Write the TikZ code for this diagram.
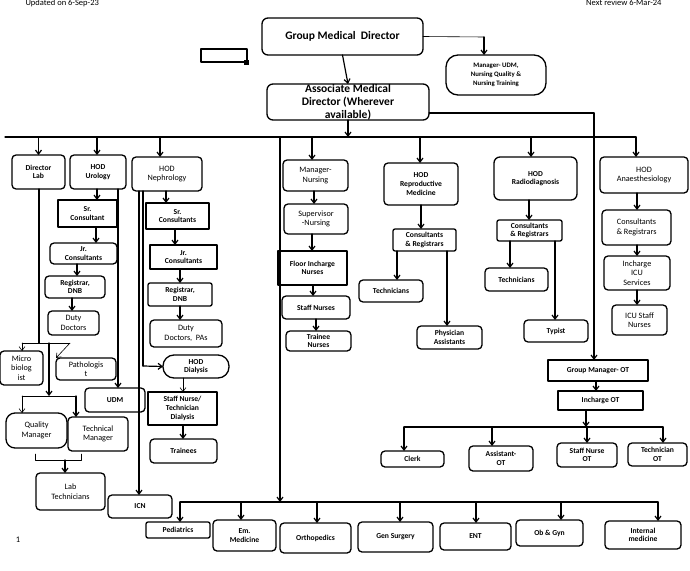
\documentclass[tikz,border=0pt]{standalone}
\usepackage{fontspec}
\setmainfont{Carlito}
\usetikzlibrary{arrows.meta}

\tikzset{
  box/.style={draw, line width=1.3pt, inner sep=0pt, outer sep=0pt, align=center, font=\fontsize{7.6}{8.6}\selectfont\bfseries},
  rbox/.style={box, rounded corners=4pt},
  lbox/.style={rbox, font=\fontsize{8.2}{9.6}\selectfont},
  big/.style={rbox, rounded corners=6pt, font=\fontsize{11.5}{13}\selectfont\bfseries},
  arr/.style={line width=1.2pt, -{Straight Barb[length=4pt,width=6pt]}},
  thin arr/.style={line width=0.6pt, -{Straight Barb[length=4pt,width=6pt]}},
  ln/.style={line width=1.2pt}
}
% box from corner (x1,y1) to (x2,y2)
\newcommand\bx[7]{\node[#2, minimum width={(#5-#3)*1pt}, minimum height={(#6-#4)*1pt}] (#1) at ({(#3+#5)/2},{(#4+#6)/2}) {#7};}

\begin{document}
\begin{tikzpicture}[x=1pt, y=-1pt, line cap=round, line join=round]
\useasboundingbox (0,0) rectangle (690,570);

% header
\node[font=\fontsize{8.5}{9}\selectfont, anchor=west] (upd) at (22,3) {Updated on 6-Sep-23};
\node[font=\fontsize{8.5}{9}\selectfont, anchor=east] (rev) at (665,3) {Next review 6-Mar-24};
\node[font=\fontsize{8.5}{9}\selectfont] (pg) at (18,540) {1};

% top level
\bx{gmd}{big}{262}{18}{423}{55}{Group Medical\ \ Director}
\bx{udmm}{rbox, rounded corners=12pt, font=\fontsize{6.8}{8.8}\selectfont\bfseries}{446}{55}{546}{95}{Manager-\ UDM,\\Nursing Quality \&\\Nursing Training}
\bx{amd}{big}{267}{84}{429}{120}{Associate Medical\\Director (Wherever\\available)}
\draw[line width=2pt] (201,49) rectangle (247,62);
\fill (244,60) rectangle (249,65);

\draw[line width=0.6pt] (gmd.east) -- (484,37) coordinate (udmk);
\draw[arr] (udmk) -- (udmk |- udmm.north);
\draw[arr] (gmd.south) -- (amd.north);
\coordinate (busL) at (32,137);
\coordinate (busR) at (636,137);
\draw[arr] (amd.south) -- (amd.south |- busL);
\draw[ln] (5,137) -- (busR);
\draw[ln] (amd.east |- 0,113) -- (594,113) coordinate (otk);

% Lab
\bx{lab}{rbox}{12}{155}{65}{189}{Director\\Lab}
\bx{micro}{lbox}{0}{351}{43}{385}{Micro\\biolog\\ist}
\bx{path}{lbox}{56}{358}{116}{380}{Pathologis\\t}
\bx{qm}{lbox, rounded corners=9pt}{6}{413}{67}{448}{Quality\\Manager}
\bx{tm}{lbox}{68}{417}{128}{451}{Technical\\Manager}
\bx{labt}{lbox}{36}{473}{105}{510}{Lab\\Technicians}
\draw[arr] (lab.north |- busL) -- (lab.north);
\draw[ln] (39,189) -- (39,343);
\draw[line width=0.5pt] (22,343) -- (70,343);
\draw[thin arr] (22,343) -- (micro.north -| 22,0);
\draw[thin arr] (70,343) -- (path.north west);
\draw[arr] (49,343) -- (49,396);
\draw[line width=0.5pt] (22,396) -- (76,396);
\draw[thin arr] (22,396) -- (qm.north -| 22,0);
\draw[arr] (76,396) -- (tm.north -| 76,0);
\draw[line width=0.5pt] (35,454) -- (35,460) -- (81,460) -- (81,454);
\draw[arr] (65,460) -- (labt.north -| 65,0);

% Urology
\bx{uro}{rbox}{70}{155}{126}{189}{HOD\\Urology}
\bx{usr}{box}{58}{200}{117}{227}{Sr.\\Consultant}
\bx{ujr}{rbox}{50}{243}{117}{264}{Jr.\\Consultants}
\bx{ureg}{rbox}{45}{276}{105}{298}{Registrar,\\DNB}
\bx{uduty}{lbox}{48}{311}{99}{335}{Duty\\Doctors}
\bx{udm}{rbox}{85}{388}{145}{412}{UDM}
\draw[arr] (97,137) -- (uro.north -| 97,0);
\draw[arr] (uro.south -| 97,0) -- (usr.north -| 97,0);
\draw[arr] (usr.south -| 96,0) -- (ujr.north -| 96,0);
\draw[arr] (ujr.south -| 77,0) -- (ureg.north -| 77,0);
\draw[arr] (ureg.south -| 72,0) -- (uduty.north -| 72,0);
\draw[arr] (uro.south -| 118,0) -- (udm.north -| 118,0);

% Nephrology
\bx{nep}{lbox}{132}{157}{202}{191}{HOD\\Nephrology}
\bx{nsr}{box}{146}{203}{209}{229}{Sr.\\Consultants}
\bx{njr}{box}{150}{245}{217}{269}{Jr.\\Consultants}
\bx{nreg}{box, rounded corners=2pt}{148}{283}{212}{306}{Registrar,\\DNB}
\bx{nduty}{lbox}{150}{320}{222}{347}{Duty\\Doctors,\ \ PAs}
\bx{dial}{rbox, rounded corners=11pt}{163}{355}{229}{378}{HOD\\Dialysis}
\bx{dsn}{box}{148}{392}{217}{425}{Staff Nurse/\\Technician\\Dialysis}
\bx{dtr}{rbox}{150}{439}{217}{463}{Trainees}
\bx{icn}{rbox}{108}{495}{172}{518}{ICN}
\draw[arr] (160,137) -- (nep.north -| 160,0);
\draw[arr] (nep.south -| 166,0) -- (nsr.north -| 166,0);
\draw[arr] (nsr.south -| 175,0) -- (njr.north -| 175,0);
\draw[arr] (njr.south -| 180,0) -- (nreg.north -| 180,0);
\draw[arr] (nreg.south -| 180,0) -- (nduty.north -| 180,0);
\draw[ln] (nep.south -| 143,0) -- (143,366);
\draw[arr] (143,366) -- (dial.west);
\draw[thin arr] (dial.south -| 183,0) -- (dsn.north -| 183,0);
\draw[arr] (dsn.south -| 183,0) -- (dtr.north -| 183,0);
\draw[arr] (nep.south -| 139,0) -- (icn.north -| 139,0);

% Nursing
\bx{mnur}{lbox}{283}{160}{348}{191}{Manager-\\Nursing}
\bx{snur}{lbox}{284}{204}{348}{234}{Supervisor\\-Nursing}
\bx{fnur}{box}{278}{251}{347}{285}{Floor Incharge\\Nurses}
\bx{stnur}{rbox}{282}{296}{350}{319}{Staff Nurses}
\bx{tnur}{rbox}{286}{331}{351}{351}{Trainee\\Nurses}
\draw[arr] (312,137) -- (mnur.north -| 312,0);
\draw[arr] (mnur.south -| 314,0) -- (snur.north -| 314,0);
\draw[arr] (snur.south -| 312,0) -- (fnur.north -| 312,0);
\draw[arr] (fnur.south -| 313,0) -- (stnur.north -| 313,0);
\draw[arr] (stnur.south -| 316,0) -- (tnur.north -| 316,0);

% Reproductive medicine
\bx{rep}{rbox}{384}{163}{458}{205}{HOD\\Reproductive\\Medicine}
\bx{rcr}{rbox, rounded corners=2pt}{393}{229}{456}{251}{Consultants\\\& Registrars}
\bx{rtech}{rbox}{359}{280}{423}{302}{Technicians}
\bx{rpa}{rbox}{417}{326}{482}{349}{Physician\\Assistants}
\draw[arr] (420,137) -- (rep.north -| 420,0);
\draw[arr] (rep.south -| 421,0) -- (rcr.north -| 421,0);
\draw[arr] (rcr.south -| 397,0) -- (rtech.north -| 397,0);
\draw[arr] (rcr.south -| 447,0) -- (rpa.north -| 447,0);

% Radiodiagnosis
\bx{rad}{rbox, rounded corners=6pt}{494}{157}{577}{200}{HOD\\Radiodiagnosis}
\bx{dcr}{rbox, rounded corners=2pt}{497}{220}{562}{241}{Consultants\\\& Registrars}
\bx{dtech}{rbox}{485}{268}{548}{291}{Technicians}
\bx{typ}{rbox}{524}{320}{588}{342}{Typist}
\draw[arr] (531,137) -- (rad.north -| 531,0);
\draw[arr] (rad.south -| 529,0) -- (dcr.north -| 529,0);
\draw[arr] (dcr.south -| 510,0) -- (dtech.north -| 510,0);
\draw[arr] (dcr.south -| 555,0) -- (typ.north -| 555,0);

% Anaesthesiology
\bx{ana}{lbox}{600}{157}{688}{193}{HOD\\Anaesthesiology}
\bx{acr}{lbox}{602}{210}{671}{245}{Consultants\\\& Registrars}
\bx{icu}{lbox}{604}{256}{670}{290}{Incharge\\ICU\\Services}
\bx{icus}{lbox}{612}{305}{667}{335}{ICU Staff\\Nurses}
\draw[arr] (busR) -- (ana.north -| busR);
\draw[arr] (ana.south -| 637,0) -- (acr.north -| 637,0);
\draw[arr] (acr.south -| 637,0) -- (icu.north -| 637,0);
\draw[arr] (icu.south -| 637,0) -- (icus.north -| 637,0);

% OT
\bx{gmot}{box}{548}{360}{648}{381}{Group Manager-\ OT}
\bx{inot}{box}{558}{391}{643}{410}{Incharge OT}
\bx{clerk}{rbox}{381}{451}{444}{467}{Clerk}
\bx{asot}{rbox}{469}{446}{533}{471}{Assistant-\\OT}
\bx{snot}{rbox}{557}{443}{617}{467}{Staff Nurse\\OT}
\bx{teot}{rbox}{628}{443}{687}{466}{Technician\\OT}
\draw[arr] (otk) -- (otk |- gmot.north);
\draw[arr] (gmot.south -| 596,0) -- (inot.north -| 596,0);
\draw[arr] (inot.south -| 586,0) -- (586,427);
\draw[ln] (404,427) -- (663,427);
\draw[arr] (404,427) -- (clerk.north -| 404,0);
\draw[arr] (492,427) -- (asot.north -| 492,0);
\draw[arr] (587,427) -- (snot.north -| 587,0);
\draw[arr] (663,427) -- (teot.north -| 663,0);

% Departments
\bx{ped}{rbox, rounded corners=2pt}{146}{522}{210}{538}{Pediatrics}
\bx{emm}{rbox}{213}{520}{276}{551}{Em.\\Medicine}
\bx{ort}{rbox}{280}{523}{351}{553}{Orthopedics}
\bx{gsur}{rbox}{358}{522}{433}{552}{Gen Surgery}
\bx{ent}{rbox}{440}{523}{511}{550}{ENT}
\bx{obg}{rbox}{516}{520}{583}{546}{Ob \& Gyn}
\bx{imed}{rbox}{605}{521}{681}{549}{Internal\\medicine}
\draw[arr] (280,137) -- (280,502);
\draw[ln] (180,502) -- (658,502);
\foreach \d/\x in {ped/180, emm/241, ort/317, gsur/400, ent/476, obg/561, imed/658}
  \draw[arr] (\x,502) -- (\d.north -| \x,0);
\end{tikzpicture}
\end{document}
